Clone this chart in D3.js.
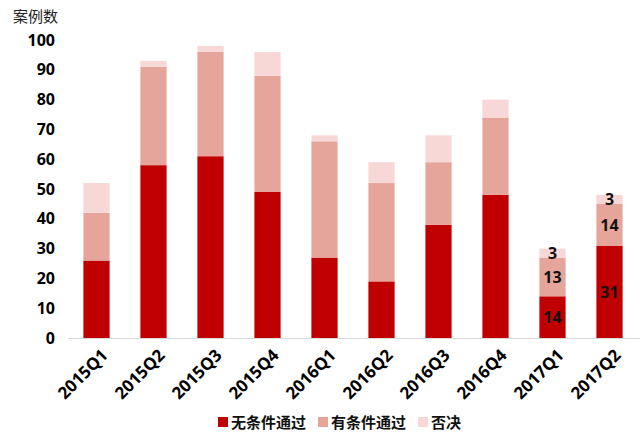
<!DOCTYPE html>
<html>
<head>
<meta charset="utf-8">
<script src="https://cdn.jsdelivr.net/npm/d3@7"></script>
<style>
  body { margin: 0; background: #fff; }
  text { font-family: "Microsoft YaHei", "Noto Sans CJK SC", "Open Sans", sans-serif; }
</style>
</head>
<body>
<script>
// quarters and the three outcome series
const quarters = ['2015Q1', '2015Q2', '2015Q3', '2015Q4', '2016Q1', '2016Q2', '2016Q3', '2016Q4', '2017Q1', '2017Q2'];
const unconditional = [26, 58, 61, 49, 27, 19, 38, 48, 14, 31];
const conditional = [16, 33, 35, 39, 39, 33, 21, 26, 13, 14];
const rejected = [10, 2, 2, 8, 2, 7, 9, 6, 3, 3];
const seriesNames = ['无条件通过', '有条件通过', '否决'];
const yTicks = [0, 10, 20, 30, 40, 50, 60, 70, 80, 90, 100];
// only the last two quarters carry value labels
const labelled = ['2017Q1', '2017Q2'];

const colors = ['#c00000', '#e5a59b', '#f8d7d7'];

const width = 640, height = 433;
const margin = { top: 40, right: 2, bottom: 95, left: 68 };
const numFont = '"Open Sans", "Liberation Sans", sans-serif';

const svg = d3.select('body').append('svg')
  .attr('width', width)
  .attr('height', height);

const rows = quarters.map((q, i) => ({
  q,
  [seriesNames[0]]: unconditional[i],
  [seriesNames[1]]: conditional[i],
  [seriesNames[2]]: rejected[i]
}));

const stacked = d3.stack().keys(seriesNames)(rows);

const x = d3.scaleBand()
  .domain(quarters)
  .range([margin.left, width - margin.right])
  .paddingInner(0.54)
  .paddingOuter(0.27);

const y = d3.scaleLinear()
  .domain([0, 100])
  .range([height - margin.bottom, margin.top]);

// y axis, no line or ticks
const yAxis = svg.append('g')
  .attr('transform', `translate(${margin.left - 13},0)`)
  .call(d3.axisLeft(y).tickValues(yTicks).tickSize(0).tickPadding(0));
yAxis.select('.domain').remove();
yAxis.selectAll('text')
  .attr('font-size', 16)
  .attr('font-weight', 'bold')
  .attr('fill', '#000')
  .style('font-family', numFont);

svg.append('text')
  .attr('x', 13)
  .attr('y', 22)
  .attr('font-size', 15)
  .attr('fill', '#222')
  .text('案例数');

// bars
const layers = svg.append('g').selectAll('g')
  .data(stacked)
  .join('g')
  .attr('fill', (d, i) => colors[i]);

layers.selectAll('rect')
  .data(d => d)
  .join('rect')
  .attr('x', d => x(d.data.q))
  .attr('y', d => y(d[1]))
  .attr('width', x.bandwidth())
  .attr('height', d => y(d[0]) - y(d[1]));

// value labels
layers.selectAll('text')
  .data(d => d.filter(p => labelled.includes(p.data.q)))
  .join('text')
  .attr('x', d => x(d.data.q) + x.bandwidth() / 2)
  .attr('y', d => (y(d[0]) + y(d[1])) / 2)
  .attr('dy', '0.36em')
  .attr('text-anchor', 'middle')
  .attr('font-size', 16)
  .attr('font-weight', 'bold')
  .attr('fill', '#111')
  .style('font-family', numFont)
  .text(d => d[1] - d[0]);

// x axis
const xAxis = svg.append('g')
  .attr('transform', `translate(0,${height - margin.bottom})`)
  .call(d3.axisBottom(x).tickSize(0).tickPadding(0));
xAxis.select('.domain')
  .attr('stroke', '#d9d9d9')
  .attr('d', `M${margin.left},0.5H${width}`);
xAxis.selectAll('text')
  .attr('font-size', 17)
  .attr('font-weight', 'bold')
  .attr('fill', '#000')
  .style('font-family', numFont)
  .attr('text-anchor', 'end')
  .attr('transform', 'translate(4,10) rotate(-45)')
  .attr('dy', '0.7em');

// legend
const legend = svg.append('g')
  .attr('transform', `translate(218,${height - 5})`);
const legendX = [0, 100, 200];
const items = legend.selectAll('g')
  .data(seriesNames)
  .join('g')
  .attr('transform', (d, i) => `translate(${legendX[i]},0)`);
items.append('rect')
  .attr('x', 0)
  .attr('y', -11)
  .attr('width', 10)
  .attr('height', 10)
  .attr('fill', (d, i) => colors[i]);
items.append('text')
  .attr('x', 13)
  .attr('y', 0)
  .attr('font-size', 15)
  .attr('font-weight', 'bold')
  .attr('fill', '#111')
  .text(d => d);
</script>
</body>
</html>
